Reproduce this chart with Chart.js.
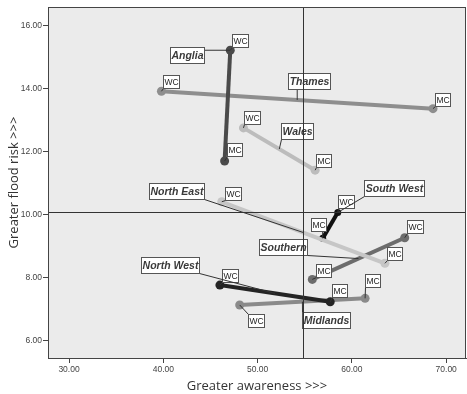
<!DOCTYPE html>
<html>
<head>
<meta charset="utf-8">
<script src="https://cdn.jsdelivr.net/npm/chart.js@4/dist/chart.umd.min.js"></script>
<style>
  html, body { margin: 0; padding: 0; background: #fff; }
  #wrap { width: 467px; height: 394px; position: relative; }
</style>
</head>
<body>
<div id="wrap"><canvas id="chart"></canvas></div>
<script>
// data
const regions = ['Anglia', 'Thames', 'Wales', 'North East', 'South West', 'Southern', 'North West', 'Midlands']
const wcX = [47.1, 39.8, 48.5, 46.2, 58.5, 65.6, 46.0, 48.1]
const wcY = [15.21, 13.91, 12.75, 10.41, 10.07, 9.27, 7.77, 7.14]
const mcX = [46.5, 68.6, 56.1, 63.5, 56.9, 55.8, 57.7, 61.4]
const mcY = [11.70, 13.36, 11.41, 8.46, 9.25, 7.95, 7.24, 7.35]
const xTicks = [30, 40, 50, 60, 70]
const yTicks = [6, 8, 10, 12, 14, 16]
const refX = 54.8   // mean awareness
const refY = 10.09  // mean flood risk

// styles
const lineColors = ['#4a4a4a', '#8e8e8e', '#bcbcbc', '#c6c6c6', '#101010', '#6c6c6c', '#242424', '#8a8a8a']
const lineWidths = [4, 4, 4, 4, 4, 4, 4, 4]
// region label boxes (centre, data units) and where along the line the leader points (0 = WC, 1 = MC)
const labelAt = [[42.53, 15.05], [55.42, 14.23], [54.15, 12.65], [41.42, 10.76], [64.43, 10.84], [52.71, 8.99], [40.73, 8.41], [57.22, 6.65]]
const labelT = [0, 0.5, 0.5, 0.5, 0, 0.5, 0.5, 0.5]
// WC / MC box offsets from the point, pixels [dx, dy of box bottom-left]
const wcOff = [[2, -3], [2, -3], [1, -4], [3, -2], [0, -4], [2, -5], [2, -3], [8, 22]]
const mcOff = [[2, -5], [2, -3], [1, -3], [2, -3], [-12, -7], [4, -2], [2, -5], [0, -11]]

const datasets = regions.map((r, i) => ({
    label: r,
    data: [{ x: wcX[i], y: wcY[i] }, { x: mcX[i], y: mcY[i] }],
    showLine: true,
    borderColor: lineColors[i],
    backgroundColor: lineColors[i],
    borderWidth: lineWidths[i],
    pointRadius: i === 4 ? 3.5 : 4.5,
    pointBorderWidth: 0,
    pointBackgroundColor: lineColors[i]
}))

function nearestOnBox(px, py, l, t, w, h) {
    return [Math.min(Math.max(px, l), l + w), Math.min(Math.max(py, t), t + h)]
}

const decor = {
    id: 'decor',
    beforeDraw(chart) {
        const { ctx, chartArea: a } = chart
        ctx.save()
        ctx.fillStyle = '#ebebeb'
        ctx.fillRect(a.left, a.top, a.right - a.left, a.bottom - a.top)
        ctx.restore()
    },
    afterDatasetsDraw(chart) {
        const { ctx, chartArea: a, scales: { x, y } } = chart
        ctx.save()

        // WC / MC point tags
        ctx.font = '8.5px "Liberation Sans", Arial, sans-serif'
        ctx.textBaseline = 'middle'
        ctx.textAlign = 'center'
        regions.forEach((r, i) => {
            [['WC', wcX[i], wcY[i], wcOff[i]], ['MC', mcX[i], mcY[i], mcOff[i]]].forEach(([txt, vx, vy, off]) => {
                const px = x.getPixelForValue(vx)
                const py = y.getPixelForValue(vy)
                const w = Math.round(ctx.measureText(txt).width) + 2
                const h = 13
                const l = Math.round(px + off[0]) + 0.5
                const t = Math.round(py + off[1] - h) + 0.5
                const [cx, cy] = nearestOnBox(px, py, l, t, w, h)
                ctx.strokeStyle = '#333'
                ctx.lineWidth = 1
                ctx.beginPath(); ctx.moveTo(px, py); ctx.lineTo(cx, cy); ctx.stroke()
                ctx.fillStyle = '#fff'
                ctx.fillRect(l, t, w, h)
                ctx.strokeStyle = '#555'
                ctx.strokeRect(l, t, w, h)
                ctx.fillStyle = '#222'
                ctx.fillText(txt, l + w / 2, t + h / 2 + 0.5)
            })
        })

        // region name boxes
        ctx.font = 'italic bold 10.5px "Liberation Sans", Arial, sans-serif'
        regions.forEach((r, i) => {
            const cx = x.getPixelForValue(labelAt[i][0])
            const cy = y.getPixelForValue(labelAt[i][1])
            const w = Math.round(ctx.measureText(r).width) + 2
            const h = 16
            const l = Math.round(cx - w / 2) + 0.5
            const t = Math.round(cy - h / 2) + 0.5
            const tx = wcX[i] + (mcX[i] - wcX[i]) * labelT[i]
            const ty = wcY[i] + (mcY[i] - wcY[i]) * labelT[i]
            const px = x.getPixelForValue(tx)
            const py = y.getPixelForValue(ty)
            const [ex, ey] = nearestOnBox(px, py, l, t, w, h)
            ctx.strokeStyle = '#333'
            ctx.lineWidth = 1
            ctx.beginPath(); ctx.moveTo(ex, ey); ctx.lineTo(px, py); ctx.stroke()
            ctx.fillStyle = '#fff'
            ctx.fillRect(l, t, w, h)
            ctx.strokeStyle = '#555'
            ctx.strokeRect(l, t, w, h)
            ctx.fillStyle = '#3a3a3a'
            ctx.fillText(r, l + w / 2, t + h / 2 + 0.5)
        })

        // reference lines
        ctx.strokeStyle = '#333'
        ctx.lineWidth = 1
        const rx = Math.round(x.getPixelForValue(refX)) + 0.5
        const ry = Math.round(y.getPixelForValue(refY)) + 0.5
        ctx.beginPath()
        ctx.moveTo(rx, a.top); ctx.lineTo(rx, a.bottom)
        ctx.moveTo(a.left, ry); ctx.lineTo(a.right, ry)
        ctx.stroke()

        // frame
        ctx.strokeStyle = '#444'
        ctx.strokeRect(Math.round(a.left) + 0.5, Math.round(a.top) + 0.5, Math.round(a.right - a.left) - 1, Math.round(a.bottom - a.top))
        ctx.restore()
    }
}

new Chart(document.getElementById('chart'), {
    type: 'scatter',
    data: { datasets },
    options: {
        responsive: true,
        maintainAspectRatio: false,
        animation: false,
        layout: { autoPadding: false, padding: { top: 7, right: 1, left: 0, bottom: 0 } },
        plugins: {
            legend: { display: false },
            tooltip: { enabled: false }
        },
        scales: {
            x: {
                type: 'linear',
                min: 27.77,
                max: 72.1,
                afterBuildTicks: s => { s.ticks = xTicks.map(v => ({ value: v })) },
                afterFit: s => { s.height = 36 },
                grid: { drawOnChartArea: false, drawTicks: true, tickLength: 5, color: '#444' },
                border: { display: true, color: '#444' },
                ticks: {
                    padding: 2,
                    color: '#444',
                    font: { family: '"Liberation Sans", Arial, sans-serif', size: 8.5 },
                    callback: v => Number(v).toFixed(2),
                    maxRotation: 0
                },
                title: {
                    display: true,
                    text: 'Greater awareness >>>',
                    color: '#333',
                    padding: { top: 4, bottom: 0 },
                    font: { family: '"Open Sans", sans-serif', size: 13 }
                }
            },
            y: {
                type: 'linear',
                min: 5.46,
                max: 16.58,
                afterBuildTicks: s => { s.ticks = yTicks.map(v => ({ value: v })) },
                afterFit: s => { s.width = 48 },
                grid: { drawOnChartArea: false, drawTicks: true, tickLength: 5, color: '#444' },
                border: { display: true, color: '#444' },
                ticks: {
                    padding: 1,
                    color: '#444',
                    font: { family: '"Liberation Sans", Arial, sans-serif', size: 8.5 },
                    callback: v => Number(v).toFixed(2)
                },
                title: {
                    display: true,
                    text: 'Greater flood risk >>>',
                    color: '#333',
                    padding: { top: 6, bottom: 0 },
                    font: { family: '"Open Sans", sans-serif', size: 13 }
                }
            }
        }
    },
    plugins: [decor]
})
</script>
</body>
</html>
